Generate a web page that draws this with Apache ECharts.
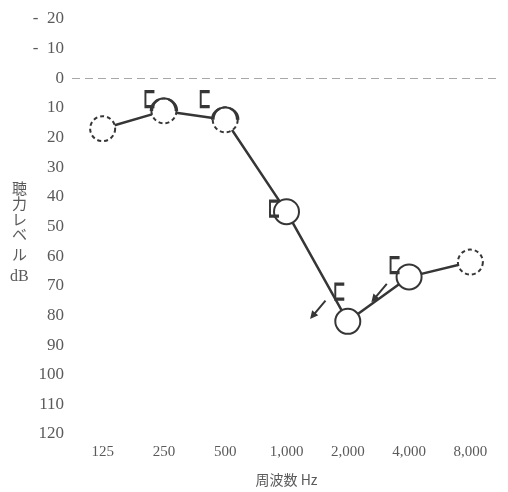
<!DOCTYPE html>
<html>
<head>
<meta charset="utf-8">
<script src="https://cdn.jsdelivr.net/npm/echarts@6/dist/echarts.min.js"></script>
<style>
  html, body {margin: 0; padding: 0; background: #fff;}
  #chart {width: 508px; height: 492px;}
</style>
</head>
<body>
<div id="chart"></div>
<script>
// frequencies (Hz) and hearing levels (dB)
var freqs = ['125', '250', '500', '1,000', '2,000', '4,000', '8,000'];
var airLevels = [17, 11, 14, 45, 82, 67, 62];
var boneLevels = [null, 7, 7, 44, 72, 63, null];
var noResponse = [null, null, null, null, 72, 63, null];
var dashedAt = ['125', '250', '500', '8,000'];
var halfSolidAt = ['250', '500'];

var ink = '#363636';
var textColor = '#5a5a5a';
var serif = 'Liberation Serif, DejaVu Serif, serif';

var chart = echarts.init(document.getElementById('chart'));

var airData = airLevels.map(function (v, i) {
  var item = {value: v};
  if (dashedAt.indexOf(freqs[i]) >= 0) {
    item.itemStyle = {borderType: [4, 3]};
  }
  return item;
});
var topArcs = airLevels.map(function (v, i) {
  return halfSolidAt.indexOf(freqs[i]) >= 0 ? v : null;
});

var bracketOffsets = [0, -14, -20, -12, -8, -14, 0];
var boneData = boneLevels.map(function (v, i) {
  return {value: v, symbolOffset: [bracketOffsets[i], 0]};
});
var arrowOffsets = {4: [-30, 18], 5: [-30, 28]};
var arrowData = noResponse.map(function (v, i) {
  return {value: v, symbolOffset: arrowOffsets[i] || [0, 0]};
});

var yChars = [
  {t: '聴', y: 181}, {t: '力', y: 196}, {t: 'レ', y: 212},
  {t: 'ベ', y: 227}, {t: 'ル', y: 247}
];
var graphics = yChars.map(function (c) {
  return {
    type: 'text', left: 12, top: c.y,
    style: {text: c.t, fill: textColor, font: '15px "Noto Sans CJK JP"'}
  };
});
graphics.push({
  type: 'text', left: 10, top: 269,
  style: {text: 'dB', fill: textColor, font: '16px ' + serif}
});

chart.setOption({
  backgroundColor: '#fff',
  animation: false,
  grid: {left: 72, right: 7, top: 19, bottom: 53},
  graphic: graphics,
  xAxis: {
    type: 'category',
    data: freqs,
    boundaryGap: true,
    axisLine: {show: false},
    axisTick: {show: false},
    splitLine: {show: false},
    axisLabel: {margin: 11, color: textColor, fontFamily: serif, fontSize: 15},
    name: '周波数 Hz',
    nameLocation: 'middle',
    nameGap: 39,
    nameTextStyle: {color: textColor, fontFamily: 'Noto Sans CJK JP', fontSize: 14}
  },
  yAxis: {
    type: 'value',
    inverse: true,
    min: -20,
    max: 120,
    interval: 10,
    axisLine: {show: false},
    axisTick: {show: false},
    splitLine: {show: false},
    axisLabel: {
      margin: 8,
      color: textColor,
      fontFamily: serif,
      fontSize: 17,
      formatter: function (v) { return v < 0 ? '-  ' + (-v) : String(v); }
    }
  },
  series: [
    {
      name: 'air',
      type: 'line',
      data: airData,
      symbol: 'emptyCircle',
      symbolSize: 25,
      lineStyle: {color: ink, width: 2.5},
      itemStyle: {color: ink, borderWidth: 2.5},
      z: 3,
      markLine: {
        silent: true,
        symbol: 'none',
        label: {show: false},
        lineStyle: {color: '#a8a8a8', type: [8, 5], width: 1},
        data: [{yAxis: 0}]
      }
    },
    {
      name: 'airTop',
      type: 'scatter',
      data: topArcs,
      symbol: 'path://M0,20 A20,20 0 0 1 40,20',
      symbolSize: [25, 12.5],
      symbolOffset: [0, -6.25],
      itemStyle: {color: 'rgba(0,0,0,0)', borderColor: ink, borderWidth: 2.5, opacity: 1},
      z: 4
    },
    {
      name: 'bone',
      type: 'scatter',
      data: boneData,
      symbol: 'path://M9,0 L0,0 L0,16 L9,16',
      symbolSize: [9, 15],
      itemStyle: {color: 'rgba(0,0,0,0)', borderColor: ink, borderWidth: 2.5, opacity: 1},
      z: 4
    },
    {
      name: 'noResponse',
      type: 'scatter',
      data: arrowData,
      symbol: 'path://M3,0 L5,0 L5,16 L8,16 L4,24 L0,16 L3,16 Z',
      symbolSize: [8, 24],
      symbolRotate: -40,
      itemStyle: {color: ink, opacity: 1},
      z: 4
    }
  ]
});
</script>
</body>
</html>
